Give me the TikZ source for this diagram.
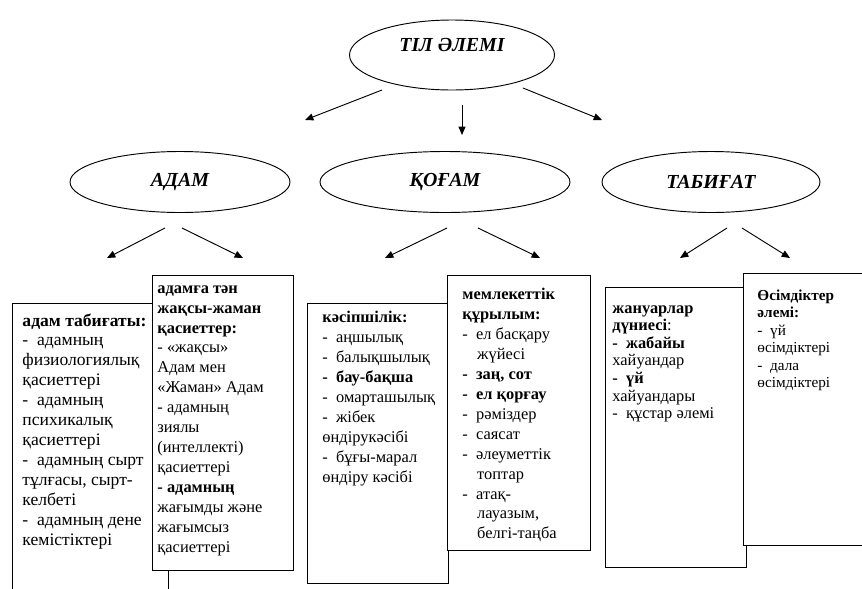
\documentclass[tikz,border=0pt]{standalone}
\usepackage{fontspec}
\setmainfont{Liberation Serif}
\usetikzlibrary{arrows.meta, shapes.geometric}

\begin{document}
\begin{tikzpicture}[x=0.3mm, y=-0.3mm, line width=0.8pt,
    oval/.style={draw, ellipse, inner sep=0pt, font=\fontsize{17}{19}\selectfont\bfseries\itshape},
    box/.style={draw, fill=white, anchor=north west, inner sep=0pt},
    txt/.style={anchor=north west, align=left, inner sep=0pt, font=\fontsize{14}{17}\selectfont},
    arr/.style={-{Triangle[length=2.5mm, width=2.1mm]}}]
    \clip (0,0) rectangle (862,588);

    \node[oval, minimum width=61.5mm, minimum height=21mm, text depth=6mm] (til) at (452,55) {ТІЛ ӘЛЕМІ};
    \node[oval, minimum width=66mm, minimum height=18.3mm] (adam) at (180,182) {АДАМ};
    \node[oval, minimum width=75mm, minimum height=18.3mm] (qogam) at (445,182) {ҚОҒАМ};
    \node[oval, minimum width=65.4mm, minimum height=18.3mm] (tabigat) at (711,182) {ТАБИҒАТ};

    \foreach \n/\xa/\ya/\xb/\yb in {t1/382/90/305/120, t2/462/105/462/135, t3/523/88/602/120,
        a1/165/228/107/258, a2/182/228/243/258, q1/447/228/385/258, q2/478/228/540/258,
        b1/727/228/680/258, b2/742/228/790/258} {
        \coordinate (\n-s) at (\xa,\ya);
        \coordinate (\n-e) at (\xb,\yb);
        \draw[arr] (\n-s) -- (\n-e);
    }

    \node[box, minimum width=46.8mm, minimum height=87.6mm] (box1) at (12,303) {};
    \node[box, minimum width=42.3mm, minimum height=88.5mm] (box2) at (152,275) {};
    \node[box, minimum width=42.3mm, minimum height=84mm] (box3) at (307,303) {};
    \node[box, minimum width=42.9mm, minimum height=82.5mm] (box4) at (447,275) {};
    \node[box, minimum width=42.3mm, minimum height=84mm] (box5) at (605,287) {};
    \node[box, minimum width=39mm, minimum height=81.6mm] (box6) at (743,273) {};

    \node[txt, font=\fontsize{15}{17}\selectfont] (txt1) at (22,313) {\textbf{адам табиғаты:}\\- \ адамның\\физиологиялық\\қасиеттері\\- \ адамның\\психикалық\\қасиеттері\\- \ адамның сырт\\тұлғасы, сырт-\\келбеті\\- \ адамның дене\\кемістіктері};
    \node[txt] (txt2) at (157,285) {\textbf{адамға тән}\\\textbf{жақсы-жаман}\\\textbf{қасиеттер:}\\- «жақсы»\\Адам мен\\«Жаман» Адам\\- адамның\\зиялы\\(интеллекті)\\қасиеттері\\\textbf{- адамның}\\жағымды және\\жағымсыз\\қасиеттері};
    \node[txt] (txt3) at (322,311) {\textbf{кәсіпшілік:}\\- \ аңшылық\\- \ балықшылық\\\textbf{- \ бау-бақша}\\- \ омарташылық\\- \ жібек\\өндірукәсібі\\- \ бұғы-марал\\өндіру кәсібі};
    \node[txt] (txt4) at (462,288) {\textbf{мемлекеттік}\\\textbf{құрылым:}\\- \ ел басқару\\\hspace*{0.9em}жүйесі\\\textbf{- \ заң, сот}\\\textbf{- \ ел қорғау}\\- \ рәміздер\\- \ саясат\\- \ әлеуметтік\\\hspace*{0.9em}топтар\\- \ атақ-\\\hspace*{0.9em}лауазым,\\\hspace*{0.9em}белгі-таңба};
    \node[txt, font=\fontsize{14}{15}\selectfont] (txt5) at (612,305) {\textbf{жануарлар}\\\textbf{дүниесі}:\\\textbf{- \ жабайы}\\хайуандар\\\textbf{- \ үй}\\хайуандары\\- \ құстар әлемі};
    \node[txt, font=\fontsize{13}{15}\selectfont] (txt6) at (757,289) {\textbf{Өсімдіктер}\\\textbf{әлемі:}\\- \ үй\\өсімдіктері\\- \ дала\\өсімдіктері};
\end{tikzpicture}
\end{document}
